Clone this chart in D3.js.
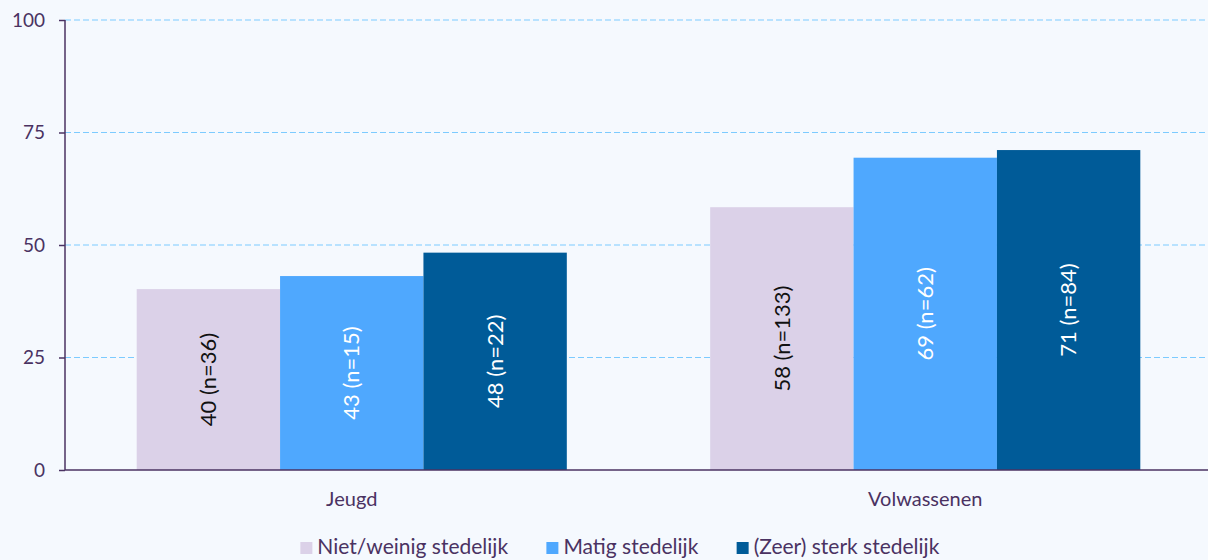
<!DOCTYPE html>
<html>
<head>
<meta charset="utf-8">
<script src="https://cdn.jsdelivr.net/npm/d3@7"></script>
<style>
  body { margin: 0; background: #f5f9fe; }
  svg { display: block; font-family: Lato, "Open Sans", sans-serif; }
</style>
</head>
<body>
<div id="chart"></div>
<script>
// data
const groups = ["Jeugd", "Volwassenen"];
const series = ["Niet/weinig stedelijk", "Matig stedelijk", "(Zeer) sterk stedelijk"];
const values = [
  [40.2, 43.1, 48.3],   // Jeugd
  [58.4, 69.4, 71.1]    // Volwassenen
];
const counts = [
  [36, 15, 22],
  [133, 62, 84]
];
const yTicks = [0, 25, 50, 75, 100];

const colors = ["#dbd1e8", "#4fa8fe", "#005b98"];
const labelColors = ["#111111", "#ffffff", "#ffffff"];
const inkColor = "#4a3262";

const W = 1208, H = 560;
const margin = { top: 20, right: 0, bottom: 90, left: 65 };
const width = W - margin.left - margin.right,
      height = H - margin.top - margin.bottom;

const svg = d3.select("#chart")
  .append("svg")
  .attr("width", W)
  .attr("height", H);

const g = svg.append("g")
  .attr("transform", `translate(${margin.left},${margin.top})`);

const y = d3.scaleLinear().domain([0, 100]).range([height, 0]);

// groups sit a touch right of centre in the original
const x0 = d3.scaleBand()
  .domain(groups)
  .range([0, width + 4])
  .paddingInner(0.25)
  .paddingOuter(0.125);

const x1 = d3.scaleBand()
  .domain(series)
  .range([0, x0.bandwidth()]);

// gridlines
g.append("g")
  .selectAll("line")
  .data(yTicks.filter(d => d > 0))
  .join("line")
    .attr("x1", 0)
    .attr("x2", width)
    .attr("y1", d => y(d))
    .attr("y2", d => y(d))
    .attr("stroke", "#7ccbff")
    .attr("stroke-width", 1.2)
    .attr("stroke-dasharray", "6,3");

// bars
const grp = g.selectAll(".grp")
  .data(groups)
  .join("g")
    .attr("class", "grp")
    .attr("transform", d => `translate(${x0(d)},0)`);

grp.selectAll("rect")
  .data((d, i) => series.map((s, j) => ({ s, j, v: values[i][j], n: counts[i][j] })))
  .join("rect")
    .attr("x", d => x1(d.s))
    .attr("y", d => y(d.v))
    .attr("width", x1.bandwidth())
    .attr("height", d => height - y(d.v))
    .attr("fill", d => colors[d.j]);

grp.selectAll("text")
  .data((d, i) => series.map((s, j) => ({ s, j, v: values[i][j], n: counts[i][j] })))
  .join("text")
    .attr("transform", d => {
      const cx = x1(d.s) + x1.bandwidth() / 2;
      const cy = (y(d.v) + height) / 2;
      return `translate(${cx},${cy}) rotate(-90)`;
    })
    .attr("text-anchor", "middle")
    .attr("dy", "0.35em")
    .attr("font-size", 22)
    .attr("fill", d => labelColors[d.j])
    .text(d => `${Math.round(d.v)} (n=${d.n})`);

// y axis
const yAxis = g.append("g")
  .call(d3.axisLeft(y).tickValues(yTicks).tickSize(6).tickPadding(14));
yAxis.selectAll("path, line").attr("stroke", inkColor).attr("stroke-width", 1.5);
yAxis.selectAll("text").attr("font-size", 19).attr("fill", inkColor).attr("font-family", "Lato, sans-serif");
yAxis.select(".domain").attr("d", `M0,${y(100)}V${height}`);

// x baseline + group labels
g.append("line")
  .attr("x1", 0).attr("x2", width)
  .attr("y1", height).attr("y2", height)
  .attr("stroke", inkColor).attr("stroke-width", 1.5);

g.selectAll(".glabel")
  .data(groups)
  .join("text")
    .attr("class", "glabel")
    .attr("x", d => x0(d) + x0.bandwidth() / 2)
    .attr("y", height + 36)
    .attr("text-anchor", "middle")
    .attr("font-size", 20)
    .attr("fill", inkColor)
    .text(d => d);

// legend
const legend = svg.append("g");
const items = legend.selectAll("g")
  .data(series)
  .join("g");
items.append("rect")
  .attr("width", 12).attr("height", 12)
  .attr("y", -12)
  .attr("fill", (d, i) => colors[i]);
items.append("text")
  .attr("x", 17)
  .attr("font-size", 21)
  .attr("fill", inkColor)
  .text(d => d);

let pos = 0;
items.each(function () {
  d3.select(this).attr("transform", `translate(${pos},0)`);
  pos += this.getBBox().width + 38;
});
const total = pos - 38;
legend.attr("transform", `translate(${620 - total / 2},${H - 6})`);
</script>
</body>
</html>
